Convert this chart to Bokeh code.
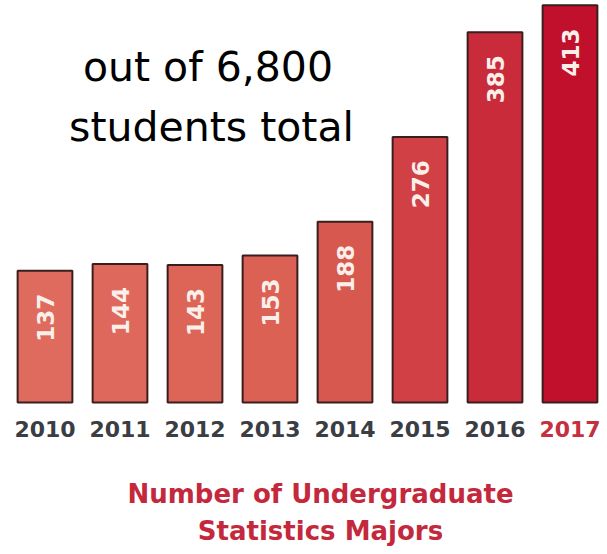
import math
from bokeh.plotting import figure
from bokeh.models import ColumnDataSource, FactorRange, Range1d, Label
from bokeh.core.properties import value
from bokeh.embed import file_html
from bokeh.resources import INLINE

# ---- data ----
years = ["2010", "2011", "2012", "2013", "2014", "2015", "2016", "2017"]
majors = [137, 144, 143, 153, 188, 276, 385, 413]
bar_colors = ["#DE6B5E", "#DD685B", "#DC6558", "#DA6154",
              "#D6584F", "#D04045", "#C92B3B", "#C1102C"]
year_colors = ["#3A3E44"] * 7 + ["#C4303F"]
value_labels = [str(v) for v in majors]
note_lines = ["out of 6,800", "students total"]
title_lines = ["Number of Undergraduate", "Statistics Majors"]

# ---- layout constants ----
label_gap = 24          # data units between bar top and start of value text
year_baseline = -27.5   # data units

src = ColumnDataSource(dict(
    year=years, majors=majors, color=bar_colors,
    label=value_labels,
    label_y=[v - label_gap for v in majors],
    year_y=[year_baseline] * len(years),
    year_color=year_colors,
))

p = figure(width=607, height=554,
           x_range=FactorRange(*years, range_padding=0),
           y_range=Range1d(-158, 418),
           output_backend="svg", toolbar_location=None,
           x_axis_location=None, y_axis_location=None)
p.min_border = 0
p.min_border_left = 7
p.outline_line_color = None
p.xgrid.visible = False
p.ygrid.visible = False
p.background_fill_color = "white"
p.border_fill_color = "white"

p.vbar(x="year", top="majors", bottom=0, width=0.73, source=src,
       fill_color="color", line_color="#3A1E1E", line_width=2)

p.text(x="year", y="label_y", text="label", source=src,
       angle=math.pi / 2, text_align="right", text_baseline="middle",
       text_color="#FBEFEA", text_font=value("DejaVu Sans"),
       text_font_style="bold", text_font_size="23px")

p.text(x="year", y="year_y", text="year", source=src,
       text_align="center", text_baseline="alphabetic",
       text_color="year_color", text_font=value("DejaVu Sans"),
       text_font_style="bold", text_font_size="22px")

# note text (top left)
p.add_layout(Label(x=2.673, y=349.3, text=note_lines[0], text_align="center",
                   text_baseline="alphabetic", text_color="black",
                   text_font="DejaVu Sans", text_font_size="41px"))
p.add_layout(Label(x=2.72, y=286.5, text=note_lines[1], text_align="center",
                   text_baseline="alphabetic", text_color="black",
                   text_font="DejaVu Sans", text_font_size="41px"))

# bottom title
p.add_layout(Label(x=4.173, y=-95.1, text=title_lines[0], text_align="center",
                   text_baseline="alphabetic", text_color="#C4283C",
                   text_font="DejaVu Sans", text_font_style="bold",
                   text_font_size="26px"))
p.add_layout(Label(x=4.173, y=-134, text=title_lines[1], text_align="center",
                   text_baseline="alphabetic", text_color="#C4283C",
                   text_font="DejaVu Sans", text_font_style="bold",
                   text_font_size="26px"))

open("out.html", "w").write(file_html(p, INLINE))
